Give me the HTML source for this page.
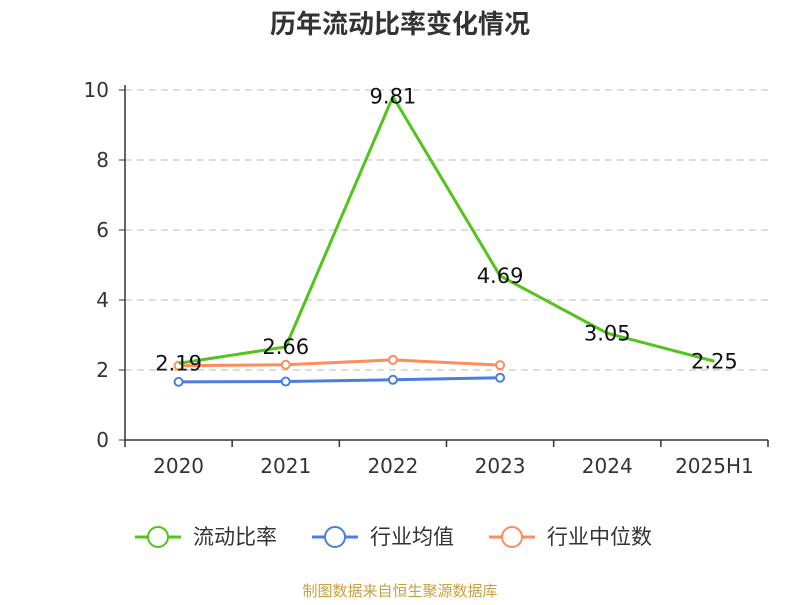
<!DOCTYPE html>
<html><head><meta charset="utf-8"><style>
body{margin:0;background:#fff;}
svg text{font-family:"DejaVu Sans","Noto Sans CJK SC",sans-serif;}
</style></head><body>
<svg id="c" width="800" height="600" xmlns="http://www.w3.org/2000/svg">
<text x="400" y="33" text-anchor="middle" font-size="26" font-weight="bold" fill="#333" style="font-family:'Noto Sans CJK SC',sans-serif">历年流动比率变化情况</text>
<g id="grid"></g><g id="axes"></g><g id="series"></g><g id="legend"></g>
<text x="400" y="596" text-anchor="middle" font-size="15" fill="#c8a040" style="font-family:'Noto Sans CJK SC',sans-serif">制图数据来自恒生聚源数据库</text>
</svg>
<script>
const categories=["2020","2021","2022","2023","2024","2025H1"];
const ratio=[2.19,2.66,9.81,4.69,3.05,2.25];
const industryAvg=[1.66,1.67,1.72,1.78];
const industryMedian=[2.12,2.15,2.29,2.14];
const yTicks=[0,2,4,6,8,10];
const seriesNames=["流动比率","行业均值","行业中位数"];
const colors=["#52c41a","#4a7fe0","#ff8c5a"];
const NS="http://www.w3.org/2000/svg";
const x0=125,x1=768,y0=440,y1=90,band=(x1-x0)/categories.length;
const xs=i=>x0+band*(i+0.5);
const ys=v=>y0-(v/10)*(y0-y1);
function mk(t,a,p){const e=document.createElementNS(NS,t);for(const k in a)e.setAttribute(k,a[k]);p.appendChild(e);return e;}
const grid=document.getElementById('grid'),axes=document.getElementById('axes'),ser=document.getElementById('series'),leg=document.getElementById('legend');
yTicks.forEach(v=>{
  if(v>0){const g=mk('line',{x1:x0,x2:x1,y1:ys(v),y2:ys(v),stroke:'#bbb','stroke-dasharray':'7,5'},grid);
  }
  const t=mk('line',{x1:x0-6,x2:x0,y1:ys(v),y2:ys(v),stroke:'#333'},axes);
  
  const l=mk('text',{x:x0-16,y:ys(v)+7,'text-anchor':'end','font-size':20,fill:'#333'},axes);l.textContent=v;
  
});
let a=mk('line',{x1:x0,x2:x0,y1:y1-5,y2:y0,stroke:'#333','stroke-width':1.5},axes);

a=mk('line',{x1:x0,x2:x1,y1:y0,y2:y0,stroke:'#333','stroke-width':1.5},axes);

for(let i=0;i<=categories.length;i++){const t=mk('line',{x1:x0+band*i,x2:x0+band*i,y1:y0,y2:y0+7,stroke:'#333','stroke-width':1.5},axes);
}
categories.forEach((c,i)=>{const l=mk('text',{x:xs(i),y:y0+33,'text-anchor':'middle','font-size':20,fill:'#333'},axes);l.textContent=c;
});
function line(data,color,name,dots){
  const p=mk('polyline',{points:data.map((v,i)=>xs(i)+','+ys(v)).join(' '),fill:'none',stroke:color,'stroke-width':3},ser);
  
  if(dots)data.forEach((v,i)=>{const c=mk('circle',{cx:xs(i),cy:ys(v),r:4,fill:'#fff',stroke:color,'stroke-width':2},ser);
  });
}
line(industryAvg,colors[1],'industry-avg',true);
line(industryMedian,colors[2],'industry-median',true);
line(ratio,colors[0],'current-ratio',false);
ratio.forEach((v,i)=>{const l=mk('text',{x:xs(i),y:ys(v)+7,'text-anchor':'middle','font-size':21,fill:'#111'},ser);l.textContent=v.toFixed(2);
});
const lx=[135,312,489];
seriesNames.forEach((n,i)=>{
  const g=mk('g',{},leg);
  mk('line',{x1:lx[i],x2:lx[i]+46,y1:537,y2:537,stroke:colors[i],'stroke-width':3},g);
  mk('circle',{cx:lx[i]+23,cy:537,r:10,fill:'#fff',stroke:colors[i],'stroke-width':2},g);
  const t=mk('text',{x:lx[i]+58,y:544,'font-size':21,fill:'#333',style:"font-family:'Noto Sans CJK SC',sans-serif"},g);t.textContent=n;
});
</script>
</body></html>
